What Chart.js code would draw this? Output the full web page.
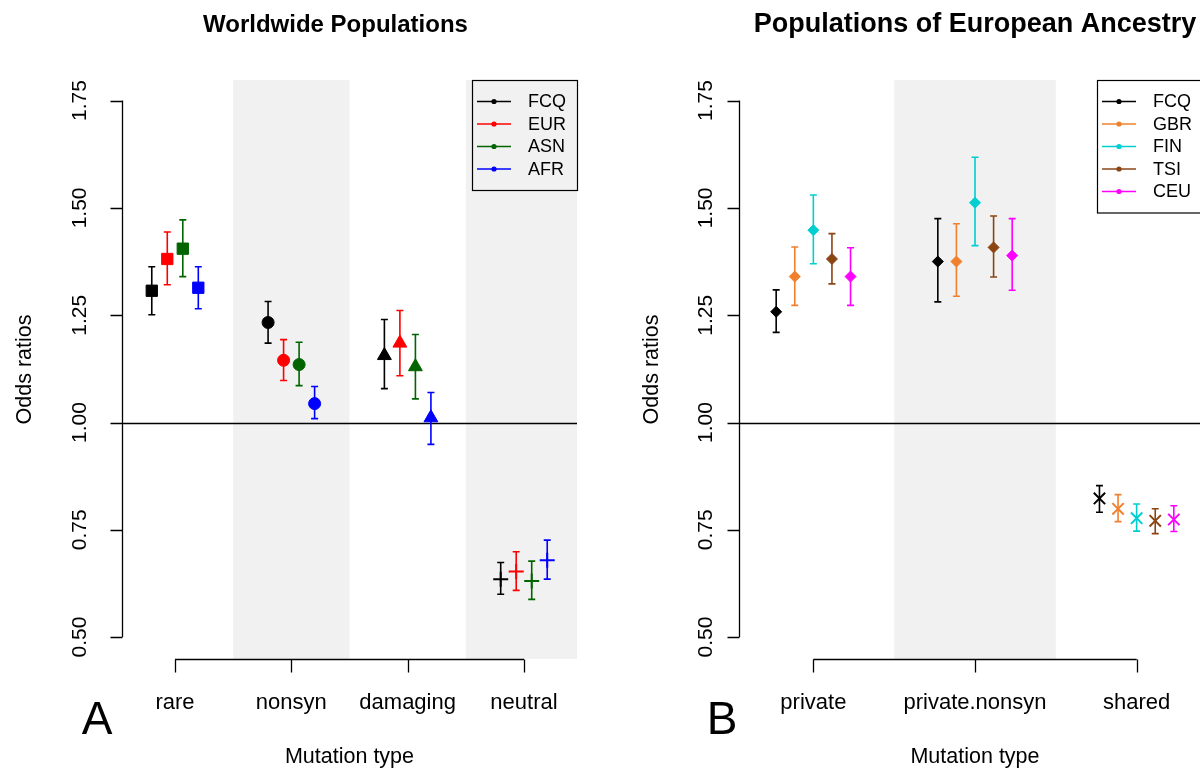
<!DOCTYPE html>
<html>
<head>
<meta charset="utf-8">
<script src="https://cdn.jsdelivr.net/npm/chart.js@4.4.1/dist/chart.umd.min.js"></script>
<style>
  html, body { margin: 0; width: 1200px; height: 770px; overflow: hidden; background: #fff; }
  canvas { position: absolute; top: 0; }
  #panelA { left: 0; }
  #panelB { left: 615px; }
</style>
</head>
<body>
<canvas id="panelA" width="615" height="770"></canvas>
<canvas id="panelB" width="615" height="770"></canvas>
<script>
// odds ratios with lower / upper 95% limits, one array per population
const yTicks = [0.5, 0.75, 1.0, 1.25, 1.5, 1.75];
const yTickLabels = ["0.50", "0.75", "1.00", "1.25", "1.50", "1.75"];

// worldwide populations
const worldTypes = ["rare", "nonsyn", "damaging", "neutral"];
const worldPops = ["FCQ", "EUR", "ASN", "AFR"];
const worldColors = ["#000000", "#FF0000", "#006400", "#0000FF"];
const worldShapes = ["rect", "circle", "triangle", "cross"];

const fcqWorld   = [1.307, 1.233, 1.156, 0.635];
const fcqWorldLo = [1.251, 1.185, 1.079, 0.600];
const fcqWorldHi = [1.363, 1.282, 1.240, 0.674];
const eur   = [1.381, 1.145, 1.185, 0.653];
const eurLo = [1.321, 1.098, 1.109, 0.609];
const eurHi = [1.444, 1.193, 1.261, 0.699];
const asn   = [1.405, 1.135, 1.130, 0.631];
const asnLo = [1.340, 1.086, 1.055, 0.588];
const asnHi = [1.472, 1.187, 1.205, 0.677];
const afr   = [1.314, 1.044, 1.011, 0.679];
const afrLo = [1.265, 1.009, 0.949, 0.635];
const afrHi = [1.363, 1.084, 1.070, 0.726];

// european-ancestry populations
const euroTypes = ["private", "private.nonsyn", "shared"];
const euroPops = ["FCQ", "GBR", "FIN", "TSI", "CEU"];
const euroColors = ["#000000", "#F0802D", "#00CED1", "#8B4513", "#FF00FF"];
const euroShapes = ["rectRot", "rectRot", "crossRot"];

const fcqEuro   = [1.258, 1.375, 0.823];
const fcqEuroLo = [1.210, 1.281, 0.791];
const fcqEuroHi = [1.309, 1.475, 0.853];
const gbr   = [1.340, 1.375, 0.799];
const gbrLo = [1.273, 1.294, 0.769];
const gbrHi = [1.409, 1.463, 0.832];
const fin   = [1.448, 1.512, 0.777];
const finLo = [1.370, 1.412, 0.747];
const finHi = [1.530, 1.618, 0.810];
const tsi   = [1.381, 1.408, 0.771];
const tsiLo = [1.323, 1.339, 0.741];
const tsiHi = [1.440, 1.481, 0.799];
const ceu   = [1.340, 1.389, 0.774];
const ceuLo = [1.273, 1.308, 0.746];
const ceuHi = [1.407, 1.475, 0.806];

const FONT = '"Liberation Sans", Arial, Helvetica, sans-serif';
const markerRadius = { rect: 8, circle: 6, triangle: 8, cross: 7.5, rectRot: 5.5, crossRot: 8 };

function makePanel(id, p) {
  const datasets = p.pops.map((name, i) => ({
    label: name,
    data: p.cats.map((c, j) => ({ x: j + 1 + p.dodge[i], y: p.est[i][j] })),
    pointStyle: p.shapes,
    pointRadius: p.shapes.map(s => markerRadius[s]),
    pointBorderWidth: p.shapes.map(s => s.startsWith("cross") ? 2 : 1),
    backgroundColor: p.colors[i],
    borderColor: p.colors[i],
    showLine: false
  }));

  // shaded bands, reference line, error bars, R-style axes and legend
  const rPlot = {
    id: "rPlot",
    beforeDatasetsDraw(chart) {
      const { ctx, chartArea: a, scales: { x, y } } = chart;
      ctx.save();
      ctx.fillStyle = "#F1F1F1";
      p.bands.forEach(j => {
        const l = Math.max(a.left, x.getPixelForValue(j + 1 - 0.5));
        const r = Math.min(a.right, x.getPixelForValue(j + 1 + 0.5));
        ctx.fillRect(l, a.top, r - l, a.bottom - a.top);
      });

      ctx.strokeStyle = "#000";
      ctx.lineWidth = 1.3;
      const y1 = Math.round(y.getPixelForValue(1)) + 0.5;
      ctx.beginPath();
      ctx.moveTo(a.left, y1);
      ctx.lineTo(a.right, y1);
      ctx.stroke();

      ctx.lineWidth = 1.6;
      p.pops.forEach((name, i) => {
        ctx.strokeStyle = p.colors[i];
        p.cats.forEach((c, j) => {
          const px = x.getPixelForValue(j + 1 + p.dodge[i]);
          const lo = y.getPixelForValue(p.lo[i][j]);
          const hi = y.getPixelForValue(p.hi[i][j]);
          ctx.beginPath();
          ctx.moveTo(px, lo); ctx.lineTo(px, hi);
          ctx.moveTo(px - 3.5, lo); ctx.lineTo(px + 3.5, lo);
          ctx.moveTo(px - 3.5, hi); ctx.lineTo(px + 3.5, hi);
          ctx.stroke();
        });
      });
      ctx.restore();
    },
    afterDraw(chart) {
      const { ctx, chartArea: a, scales: { x, y } } = chart;
      ctx.save();
      ctx.strokeStyle = "#000";
      ctx.fillStyle = "#000";
      ctx.lineWidth = 1.3;

      // y axis
      const ax = Math.round(a.left) + 0.5;
      ctx.beginPath();
      ctx.moveTo(ax, y.getPixelForValue(yTicks[0]));
      ctx.lineTo(ax, y.getPixelForValue(yTicks[yTicks.length - 1]));
      yTicks.forEach(v => {
        const py = Math.round(y.getPixelForValue(v)) + 0.5;
        ctx.moveTo(ax, py); ctx.lineTo(ax - 12, py);
      });
      ctx.stroke();
      ctx.font = "21px " + FONT;
      ctx.textAlign = "center";
      ctx.textBaseline = "middle";
      yTicks.forEach((v, k) => {
        ctx.save();
        ctx.translate(a.left - p.yLabelGap, y.getPixelForValue(v));
        ctx.rotate(-Math.PI / 2);
        ctx.fillText(yTickLabels[k], 0, 0);
        ctx.restore();
      });

      // x axis
      const ay = Math.round(a.bottom) + 0.5;
      ctx.beginPath();
      ctx.moveTo(x.getPixelForValue(1), ay);
      ctx.lineTo(x.getPixelForValue(p.cats.length), ay);
      p.cats.forEach((c, j) => {
        const px = Math.round(x.getPixelForValue(j + 1)) + 0.5;
        ctx.moveTo(px, ay); ctx.lineTo(px, ay + 13);
      });
      ctx.stroke();
      ctx.font = "22px " + FONT;
      p.cats.forEach((c, j) => ctx.fillText(c, x.getPixelForValue(j + 1), 703));

      // axis titles
      const cx = (a.left + a.right) / 2;
      ctx.font = "21.5px " + FONT;
      ctx.fillText("Mutation type", cx, 757);
      ctx.save();
      ctx.translate(a.left - p.yTitleGap, (a.top + a.bottom) / 2);
      ctx.rotate(-Math.PI / 2);
      ctx.fillText("Odds ratios", 0, 0);
      ctx.restore();

      // main title and panel letter
      ctx.font = "bold " + p.titleSize + "px " + FONT;
      ctx.fillText(p.title, cx + p.titleShift, 25);
      ctx.font = "46px " + FONT;
      ctx.fillText(p.letter, p.letterX, 721);

      // legend
      const bl = p.legendLeft, bt = a.top;
      const bh = 22.5 * p.pops.length + 20;
      ctx.lineWidth = 1.2;
      ctx.strokeRect(Math.round(bl) + 0.5, Math.round(bt) + 0.5, a.right - bl, bh);
      ctx.font = "18px " + FONT;
      ctx.textAlign = "left";
      p.pops.forEach((name, i) => {
        const ly = bt + 21.5 + 22.5 * i;
        ctx.strokeStyle = p.colors[i];
        ctx.fillStyle = p.colors[i];
        ctx.lineWidth = 1.6;
        ctx.beginPath();
        ctx.moveTo(bl + 5, ly); ctx.lineTo(bl + 39, ly);
        ctx.stroke();
        ctx.beginPath();
        ctx.arc(bl + 22, ly, 2.6, 0, Math.PI * 2);
        ctx.fill();
        ctx.fillStyle = "#000";
        ctx.fillText(name, bl + 56, ly + 1);
      });
      ctx.restore();
    }
  };

  return new Chart(document.getElementById(id), {
    type: "scatter",
    data: { datasets },
    options: {
      responsive: false,
      animation: false,
      devicePixelRatio: 1,
      layout: { padding: p.padding },
      scales: {
        x: { type: "linear", min: p.xMin, max: p.xMax, display: false },
        y: { type: "linear", min: 0.449, max: 1.798, display: false }
      },
      plugins: { legend: { display: false }, tooltip: { enabled: false } }
    },
    plugins: [rPlot]
  });
}

makePanel("panelA", {
  title: "Worldwide Populations", titleSize: 24, titleShift: -14,
  letter: "A", letterX: 97,
  cats: worldTypes, pops: worldPops, colors: worldColors, shapes: worldShapes,
  est: [fcqWorld, eur, asn, afr],
  lo: [fcqWorldLo, eurLo, asnLo, afrLo],
  hi: [fcqWorldHi, eurHi, asnHi, afrHi],
  dodge: [-0.2, -0.0667, 0.0667, 0.2],
  bands: [1, 3],
  xMin: 0.544, xMax: 4.456,
  padding: { left: 122, right: 38, top: 80, bottom: 111 },
  yLabelGap: 42, yTitleGap: 97,
  legendLeft: 472
});

makePanel("panelB", {
  title: "Populations of European Ancestry", titleSize: 27, titleShift: 0,
  letter: "B", letterX: 107,
  cats: euroTypes, pops: euroPops, colors: euroColors, shapes: euroShapes,
  est: [fcqEuro, gbr, fin, tsi, ceu],
  lo: [fcqEuroLo, gbrLo, finLo, tsiLo, ceuLo],
  hi: [fcqEuroHi, gbrHi, finHi, tsiHi, ceuHi],
  dodge: [-0.23, -0.115, 0, 0.115, 0.23],
  bands: [1],
  xMin: 0.54, xMax: 3.46,
  padding: { left: 124, right: 19, top: 80, bottom: 111 },
  yLabelGap: 33, yTitleGap: 87,
  legendLeft: 482
});
</script>
</body>
</html>
